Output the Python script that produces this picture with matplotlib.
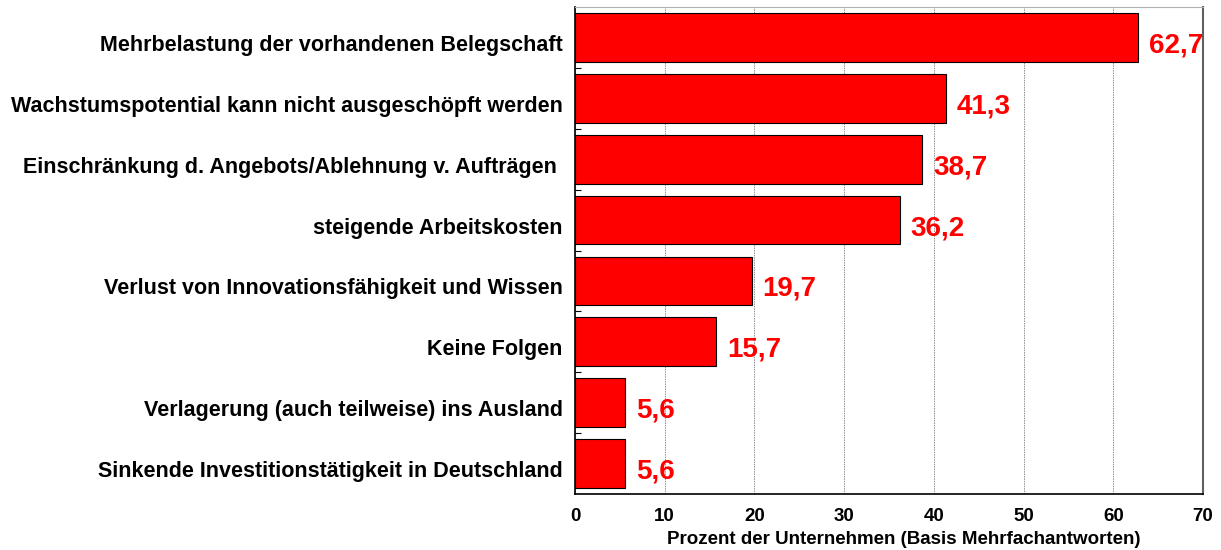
import matplotlib.pyplot as plt
from matplotlib.transforms import ScaledTranslation

plt.rcParams['font.family'] = ['Liberation Sans', 'DejaVu Sans']

categories = ['Mehrbelastung der vorhandenen Belegschaft',
              'Wachstumspotential kann nicht ausgeschöpft werden',
              'Einschränkung d. Angebots/Ablehnung v. Aufträgen ',
              'steigende Arbeitskosten',
              'Verlust von Innovationsfähigkeit und Wissen',
              'Keine Folgen',
              'Verlagerung (auch teilweise) ins Ausland',
              'Sinkende Investitionstätigkeit in Deutschland']
values = [62.7, 41.3, 38.7, 36.2, 19.7, 15.7, 5.6, 5.6]
xticks = [0, 10, 20, 30, 40, 50, 60, 70]

fig = plt.figure(figsize=(12.21, 5.5), dpi=100)
ax = fig.add_axes([575/1221, 1 - 494/550, 628/1221, 487/550])

ypos = list(range(len(values)))
ax.barh(ypos, values, height=0.8, color='#ff0000', edgecolor='black', linewidth=0.8, zorder=3)
ax.set_ylim(len(values) - 0.5, -0.5)
ax.set_xlim(0, 70)

for y, v in zip(ypos, values):
    ax.annotate(f'{v:.1f}'.replace('.', ','), (v, y), xytext=(11, -8),
                textcoords='offset pixels', va='center', ha='left',
                color='#ff0000', fontsize=20, fontweight='bold', zorder=4)

ax.set_yticks(ypos)
ax.set_yticklabels(categories, fontsize=15.5, fontweight='bold')
ax.tick_params(axis='y', length=0, pad=9)
off = ScaledTranslation(0, -4 / 72, fig.dpi_scale_trans)
for lab in ax.get_yticklabels():
    lab.set_transform(lab.get_transform() + off)
ax.set_yticks([i + 0.5 for i in range(len(values) - 1)], minor=True)
ax.tick_params(axis='y', which='minor', direction='in', length=4, width=0.8)

ax.set_xticks(xticks)
ax.set_xticklabels([str(t) for t in xticks], fontsize=13.5, fontweight='bold')
ax.tick_params(axis='x', length=0, pad=10)
ax.set_xlabel('Prozent der Unternehmen (Basis Mehrfachantworten)', fontsize=13.5,
              fontweight='bold', labelpad=5)
ax.xaxis.set_label_coords(0.523, -0.075)

ax.grid(axis='x', color='#909090', linestyle=(0, (1.5, 1)), linewidth=0.7, zorder=0)
ax.spines['left'].set_color('black')
ax.spines['bottom'].set_color('black')
ax.spines['left'].set_linewidth(1.2)
ax.spines['bottom'].set_linewidth(1.2)
ax.spines['top'].set_color('#b0b0b0')
ax.spines['right'].set_color('#606060')
ax.spines['right'].set_linewidth(1.5)

fig.savefig('out.png', dpi=100)
